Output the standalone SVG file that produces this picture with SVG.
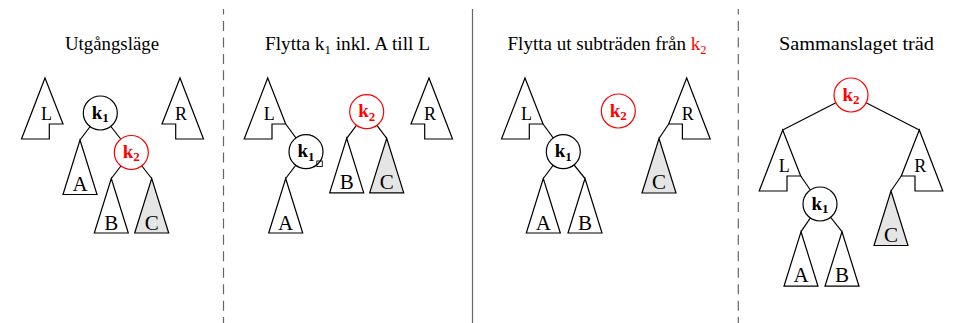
<svg xmlns="http://www.w3.org/2000/svg" xmlns:xlink="http://www.w3.org/1999/xlink" width="953" height="323" viewBox="0 0 953 323">
  <style>
    .title { font-family: "Liberation Serif", "Times New Roman", serif; font-size: 19px; fill: #000; }
    .sub { font-size: 12.5px; }
    .red { fill: #ff0000; }
    .shape { fill: #fff; stroke: #000; stroke-width: 1.2; stroke-linejoin: miter; }
    .grey { fill: #e5e5e5; }
    .node { fill: #fff; stroke: #000; stroke-width: 1.2; }
    .node.hot { stroke: #ff0000; }
    .lbl { font-family: "Liberation Serif", "Times New Roman", serif; font-size: 21px; text-anchor: middle; fill: #000; }
    .lbl-sm { font-family: "Liberation Serif", "Times New Roman", serif; font-size: 18px; text-anchor: middle; fill: #000; }
    .key { font-family: "Liberation Serif", "Times New Roman", serif; font-size: 19px; font-weight: bold; text-anchor: middle; fill: #000; }
    .key.hot { fill: #ff0000; }
    .key .idx { font-size: 13px; }
    .edge { stroke: #000; stroke-width: 1.2; fill: none; }
    .sep { stroke: #666; stroke-width: 1.2; }
    .sep.dash { stroke-dasharray: 10 6.45; stroke-dashoffset: 4.45; }
  </style>
  <defs>
    <!-- plain subtree -->
    <path id="tri" d="M0,0 L17,54.5 L-17,54.5 Z"/>
    <!-- subtree with a free slot on its right side -->
    <path id="treeL" d="M0,0 L18,46 L4.3,46 L4.3,61 L-23.5,61 Z"/>
    <!-- subtree with a free slot on its left side -->
    <path id="treeR" d="M0,0 L-18,46 L-4.3,46 L-4.3,61 L23.5,61 Z"/>
  </defs>

  <!-- panel separators -->
  <g id="separators">
    <line class="sep dash" x1="223.5" y1="9" x2="223.5" y2="323"/>
    <line class="sep" x1="472.5" y1="9" x2="472.5" y2="323"/>
    <line class="sep dash" x1="738.3" y1="9" x2="738.3" y2="323"/>
  </g>

  <!-- panel titles -->
  <g id="titles">
    <text class="title" x="65" y="50" textLength="94" lengthAdjust="spacingAndGlyphs">Utgångsläge</text>
    <text class="title" x="265" y="50" textLength="165" lengthAdjust="spacingAndGlyphs">Flytta k<tspan class="sub" dy="3.5">1</tspan><tspan dy="-3.5"> inkl. A till L</tspan></text>
    <text class="title" x="507.5" y="50" textLength="199" lengthAdjust="spacingAndGlyphs">Flytta ut subträden från <tspan class="red">k</tspan><tspan class="red sub" dy="3.5">2</tspan></text>
    <text class="title" x="779" y="50" textLength="155" lengthAdjust="spacingAndGlyphs">Sammanslaget träd</text>
  </g>

  <!-- connectors -->
  <g id="connectors">
    <!-- panel 1 -->
    <line class="edge" x1="100.3" y1="113" x2="80" y2="140"/>
    <line class="edge" x1="100.3" y1="113" x2="131.3" y2="152.5"/>
    <line class="edge" x1="131.3" y1="152.5" x2="111.3" y2="178.5"/>
    <line class="edge" x1="131.3" y1="152.5" x2="151.7" y2="178.5"/>
    <!-- panel 2 -->
    <line class="edge" x1="285.7" y1="124" x2="306" y2="151.7"/>
    <line class="edge" x1="306" y1="151.7" x2="285.7" y2="178.5"/>
    <line class="edge" x1="366.7" y1="111.7" x2="346.7" y2="138.3"/>
    <line class="edge" x1="366.7" y1="111.7" x2="386.7" y2="138.3"/>
    <!-- panel 3 -->
    <line class="edge" x1="543" y1="124" x2="563.3" y2="151.7"/>
    <line class="edge" x1="563.3" y1="151.7" x2="543.3" y2="178.5"/>
    <line class="edge" x1="563.3" y1="151.7" x2="585" y2="178.5"/>
    <line class="edge" x1="668.7" y1="124" x2="659" y2="138.5"/>
    <!-- panel 4 -->
    <line class="edge" x1="851" y1="95" x2="782.7" y2="130"/>
    <line class="edge" x1="851" y1="95" x2="919.3" y2="130"/>
    <line class="edge" x1="800.7" y1="176" x2="820" y2="204"/>
    <line class="edge" x1="820" y1="204" x2="801" y2="231.7"/>
    <line class="edge" x1="820" y1="204" x2="842" y2="231.7"/>
    <line class="edge" x1="901.3" y1="176" x2="891" y2="191"/>
  </g>

  <!-- panel 1: starting position -->
  <g id="p1-L"><use href="#treeL" class="shape" x="45" y="78"/><text class="lbl-sm" x="46.5" y="120">L</text></g>
  <g id="p1-R"><use href="#treeR" class="shape" x="180" y="78"/><text class="lbl-sm" x="181" y="120">R</text></g>
  <g id="p1-A"><use href="#tri" class="shape" x="80" y="140"/><text class="lbl" x="80" y="190.5">A</text></g>
  <g id="p1-B"><use href="#tri" class="shape" x="111.3" y="178.5"/><text class="lbl" x="111.3" y="229.5">B</text></g>
  <g id="p1-C"><use href="#tri" class="shape grey" x="151.7" y="178.5"/><text class="lbl" x="151.7" y="229.5">C</text></g>
  <g id="p1-k1"><circle class="node" cx="100.3" cy="113" r="17"/><text class="key" x="100.3" y="118.5">k<tspan class="idx" dy="3.4">1</tspan></text></g>
  <g id="p1-k2"><circle class="node hot" cx="131.3" cy="152.5" r="17"/><text class="key hot" x="131.3" y="158">k<tspan class="idx" dy="3.4">2</tspan></text></g>

  <!-- panel 2: k1 with A moved under L -->
  <g id="p2-L"><use href="#treeL" class="shape" x="267.7" y="78"/><text class="lbl-sm" x="269.2" y="120">L</text></g>
  <g id="p2-R"><use href="#treeR" class="shape" x="429" y="78"/><text class="lbl-sm" x="430" y="120">R</text></g>
  <g id="p2-A"><use href="#tri" class="shape" x="285.7" y="178.5"/><text class="lbl" x="285.7" y="229.5">A</text></g>
  <g id="p2-B"><use href="#tri" class="shape" x="346.7" y="138.3"/><text class="lbl" x="346.7" y="189">B</text></g>
  <g id="p2-C"><use href="#tri" class="shape grey" x="386.7" y="138.3"/><text class="lbl" x="386.7" y="189">C</text></g>
  <g id="p2-k1"><circle class="node" cx="306" cy="151.7" r="17"/><text class="key" x="306" y="157.2">k<tspan class="idx" dy="3.4">1</tspan></text><rect x="316.8" y="161" width="5.5" height="5.5" fill="none" stroke="#000" stroke-width="0.9"/></g>
  <g id="p2-k2"><circle class="node hot" cx="366.7" cy="111.7" r="17"/><text class="key hot" x="366.7" y="117.2">k<tspan class="idx" dy="3.4">2</tspan></text></g>

  <!-- panel 3: subtrees moved away from k2 -->
  <g id="p3-L"><use href="#treeL" class="shape" x="525" y="78"/><text class="lbl-sm" x="526.5" y="120">L</text></g>
  <g id="p3-R"><use href="#treeR" class="shape" x="686.7" y="78"/><text class="lbl-sm" x="687.7" y="120">R</text></g>
  <g id="p3-A"><use href="#tri" class="shape" x="543.3" y="178.5"/><text class="lbl" x="543.3" y="229.5">A</text></g>
  <g id="p3-B"><use href="#tri" class="shape" x="585" y="178.5"/><text class="lbl" x="585" y="229.5">B</text></g>
  <g id="p3-C"><use href="#tri" class="shape grey" x="659" y="138.5"/><text class="lbl" x="659" y="189.2">C</text></g>
  <g id="p3-k1"><circle class="node" cx="563.3" cy="151.7" r="17"/><text class="key" x="563.3" y="157.2">k<tspan class="idx" dy="3.4">1</tspan></text></g>
  <g id="p3-k2"><circle class="node hot" cx="618.3" cy="111" r="17"/><text class="key hot" x="618.3" y="116.5">k<tspan class="idx" dy="3.4">2</tspan></text></g>

  <!-- panel 4: merged tree -->
  <g id="p4-L"><use href="#treeL" class="shape" x="782.7" y="130"/><text class="lbl-sm" x="784.2" y="172">L</text></g>
  <g id="p4-R"><use href="#treeR" class="shape" x="919.3" y="130"/><text class="lbl-sm" x="920.3" y="172">R</text></g>
  <g id="p4-A"><use href="#tri" class="shape" x="801" y="231.7"/><text class="lbl" x="801" y="282.2">A</text></g>
  <g id="p4-B"><use href="#tri" class="shape" x="842" y="231.7"/><text class="lbl" x="842" y="282.2">B</text></g>
  <g id="p4-C"><use href="#tri" class="shape grey" x="891" y="191"/><text class="lbl" x="891" y="241.5">C</text></g>
  <g id="p4-k1"><circle class="node" cx="820" cy="204" r="17"/><text class="key" x="820" y="209.5">k<tspan class="idx" dy="3.4">1</tspan></text></g>
  <g id="p4-k2"><circle class="node hot" cx="851" cy="95" r="17"/><text class="key hot" x="851" y="100.5">k<tspan class="idx" dy="3.4">2</tspan></text></g>
</svg>
